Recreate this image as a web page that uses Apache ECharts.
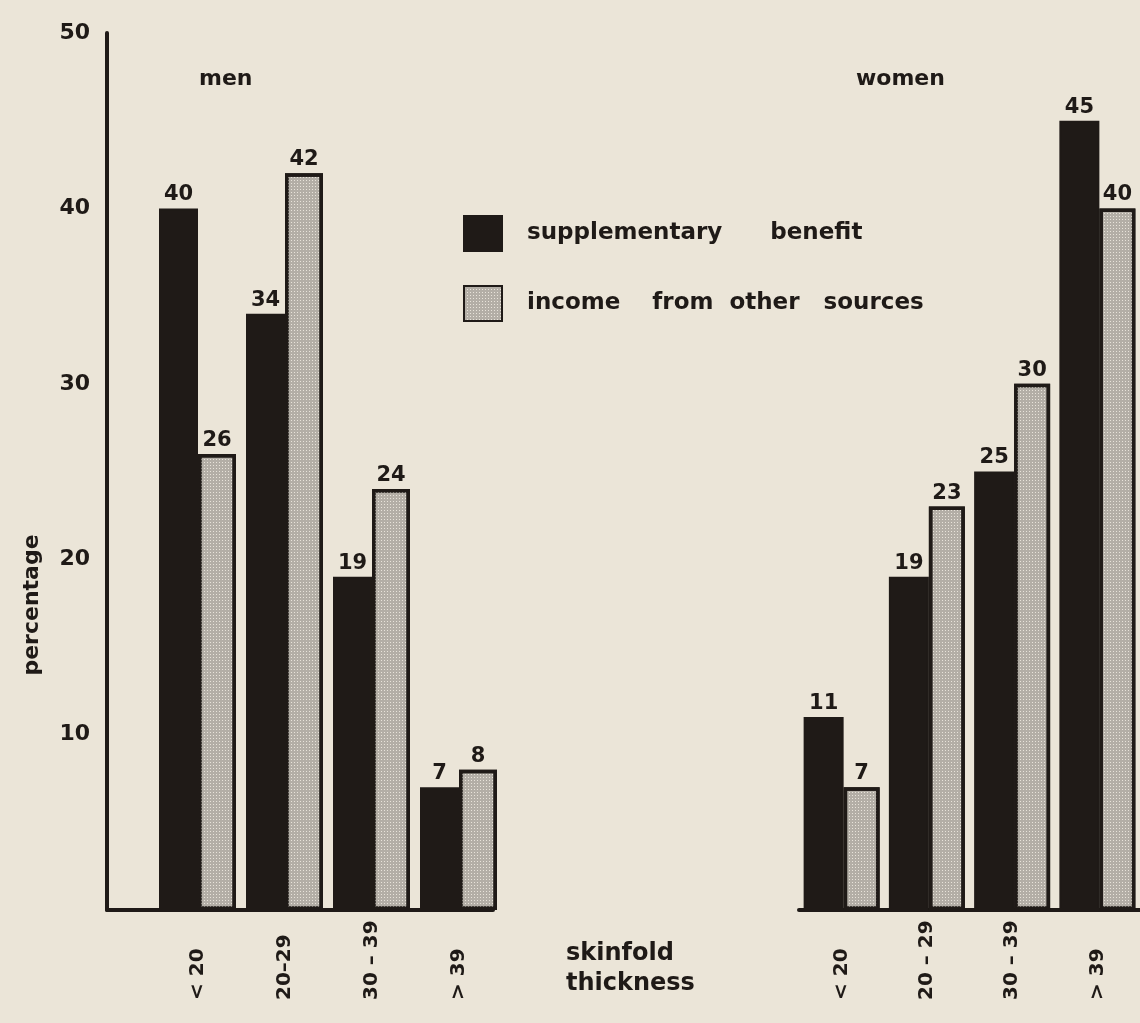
<!DOCTYPE html>
<html>
<head>
<meta charset="utf-8">
<title>Skinfold thickness by income source</title>
<script src="https://cdn.jsdelivr.net/npm/echarts@6/dist/echarts.min.js"></script>
<style>
  html, body { margin: 0; padding: 0; background: #ebe5d8; }
  #chart { width: 1140px; height: 1023px; }
</style>
</head>
<body>
<div id="chart"></div>
<script>
// Skinfold thickness groups (mm)
const menCategories = ['< 20', '20–29', '30 – 39', '> 39'];
const womenCategories = ['< 20', '20 – 29', '30 – 39', '> 39'];

// Percentage of each income group falling in each skinfold band
const menSupplementary = [40, 34, 19, 7];
const menOtherIncome = [26, 42, 24, 8];
const womenSupplementary = [11, 19, 25, 45];
const womenOtherIncome = [7, 23, 30, 40];

const yTicks = { min: 0, max: 50, interval: 10 };

const seriesNames = ['supplementary      benefit', 'income    from  other   sources'];

const INK = '#1f1a17';
const FONT = '"DejaVu Sans", Lato, sans-serif';

const darkStyle = { color: INK, borderColor: INK, borderWidth: 2 };
const stippleStyle = {
  color: '#b3aea6',
  borderColor: INK,
  borderWidth: 3.5,
  decal: {
    symbol: 'rect',
    symbolSize: 1,
    dashArrayX: [1, 2],
    dashArrayY: [1, 2],
    color: '#e8e3da'
  }
};

const valueLabel = {
  show: true,
  position: 'top',
  distance: 3,
  color: INK,
  fontFamily: FONT,
  fontWeight: 'bold',
  fontSize: 21
};

const categoryLabel = {
  rotate: 90,
  align: 'left',
  verticalAlign: 'middle',
  margin: 90,
  color: INK,
  fontFamily: FONT,
  fontWeight: 'bold',
  fontSize: 20
};

const hiddenY = Object.assign({ type: 'value', show: false }, yTicks);

const chart = echarts.init(document.getElementById('chart'));

chart.setOption({
  backgroundColor: '#ebe5d8',
  animation: false,
  textStyle: { fontFamily: FONT, color: INK },
  title: [
    { text: 'men', left: 194, top: 63, textStyle: { fontSize: 22, fontWeight: 'bold', color: INK, fontFamily: FONT } },
    { text: 'women', left: 851, top: 63, textStyle: { fontSize: 22, fontWeight: 'bold', color: INK, fontFamily: FONT } },
    {
      text: 'skinfold\nthickness', left: 561, top: 934,
      textStyle: { fontSize: 24, fontWeight: 'bold', color: INK, fontFamily: FONT, lineHeight: 30 }
    }
  ],
  legend: {
    orient: 'vertical',
    left: 458,
    top: 210,
    icon: 'rect',
    itemWidth: 38,
    itemHeight: 35,
    itemGap: 33,
    data: seriesNames,
    textStyle: {
      fontFamily: FONT,
      fontWeight: 'bold',
      fontSize: 23,
      color: INK,
      padding: [0, 0, 0, 20]
    }
  },
  graphic: [
    {
      type: 'text',
      x: 32,
      y: 605,
      rotation: Math.PI / 2,
      style: {
        text: 'percentage',
        fill: INK,
        font: 'bold 22px ' + FONT,
        textAlign: 'center',
        textVerticalAlign: 'middle'
      }
    }
  ],
  grid: [
    // frame holding the percentage axis and the men's baseline
    { left: 107, right: 647, top: 33, bottom: 113 },
    // men's bars
    { left: 154, right: 638, top: 33, bottom: 113 },
    // women's bars (the last group runs past the right edge)
    { left: 799, width: 366, top: 33, bottom: 113 }
  ],
  xAxis: [
    {
      type: 'category', gridIndex: 0, data: [''],
      axisLine: { lineStyle: { color: INK, width: 4 } },
      axisTick: { show: false }, axisLabel: { show: false }
    },
    {
      type: 'category', gridIndex: 1, data: menCategories,
      axisLine: { show: false }, axisTick: { show: false },
      axisLabel: categoryLabel
    },
    {
      type: 'category', gridIndex: 2, data: womenCategories,
      axisLine: { lineStyle: { color: INK, width: 4 } },
      axisTick: { show: false },
      axisLabel: categoryLabel
    }
  ],
  yAxis: [
    Object.assign({
      type: 'value', gridIndex: 0,
      axisLine: { show: true, lineStyle: { color: INK, width: 4 } },
      axisTick: { show: false },
      splitLine: { show: false },
      axisLabel: {
        showMinLabel: false,
        margin: 17,
        color: INK,
        fontFamily: FONT,
        fontWeight: 'bold',
        fontSize: 22
      }
    }, yTicks),
    Object.assign({ gridIndex: 1 }, hiddenY),
    Object.assign({ gridIndex: 2 }, hiddenY)
  ],
  series: [
    {
      name: seriesNames[0], type: 'bar', xAxisIndex: 1, yAxisIndex: 1,
      data: menSupplementary, barWidth: 39, barGap: 0,
      itemStyle: darkStyle, label: valueLabel
    },
    {
      name: seriesNames[1], type: 'bar', xAxisIndex: 1, yAxisIndex: 1,
      data: menOtherIncome, barWidth: 38, barGap: 0,
      itemStyle: stippleStyle, label: valueLabel
    },
    {
      name: seriesNames[0], type: 'bar', xAxisIndex: 2, yAxisIndex: 2,
      data: womenSupplementary, barWidth: 40, barGap: 0,
      itemStyle: darkStyle, label: valueLabel
    },
    {
      name: seriesNames[1], type: 'bar', xAxisIndex: 2, yAxisIndex: 2,
      data: womenOtherIncome, barWidth: 36, barGap: 0,
      itemStyle: stippleStyle, label: valueLabel
    }
  ]
});
</script>
</body>
</html>
